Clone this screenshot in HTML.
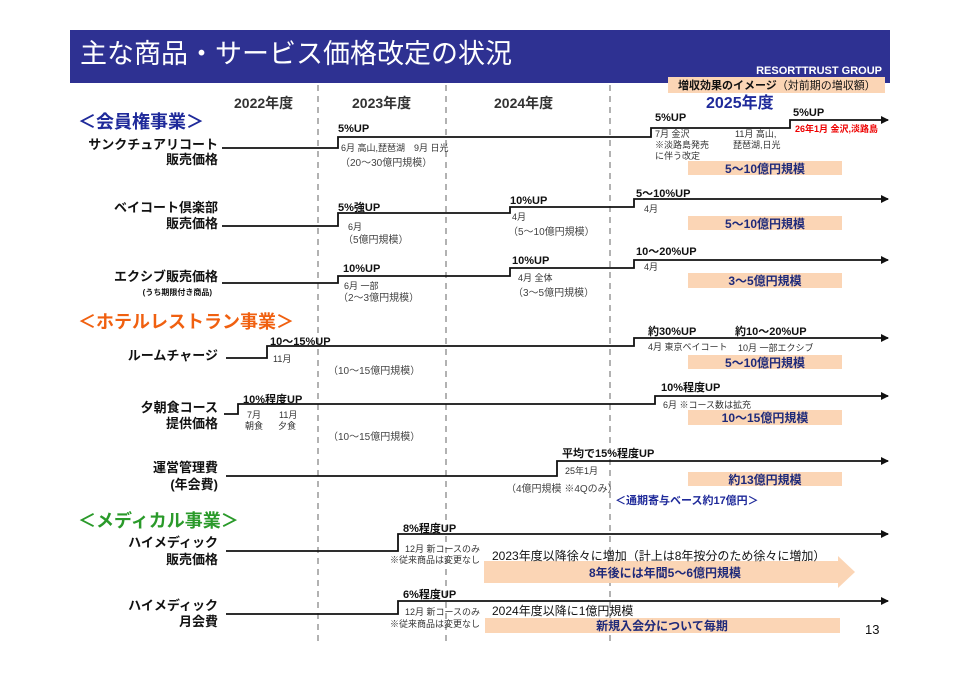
<!DOCTYPE html>
<html><head><meta charset="utf-8"><style>
html,body{margin:0;padding:0;background:#fff;}
svg{display:block;font-family:"Liberation Sans","Noto Sans CJK JP",sans-serif;}
.b{font-weight:bold;}
.lab{font-size:13px;font-weight:bold;fill:#111;}
.up{font-size:11px;font-weight:bold;fill:#111;}
.n{font-size:9px;fill:#333;}
.s{font-size:10px;fill:#444;}
.pk{font-size:12px;font-weight:bold;fill:#1f2a7a;}
</style></head><body>
<svg width="960" height="679" viewBox="0 0 960 679" xmlns="http://www.w3.org/2000/svg">
<defs><marker id="a" markerWidth="8" markerHeight="8" refX="7" refY="4" orient="auto" markerUnits="userSpaceOnUse"><path d="M0,0 L8,4 L0,8 z" fill="#111"/></marker></defs>
<rect x="70" y="30" width="820" height="53" fill="#2e3192"/>
<text x="80" y="63" font-size="27" fill="#fff">主な商品・サービス価格改定の状況</text>
<text x="882" y="74" font-size="11" class="b" fill="#fff" text-anchor="end">RESORTTRUST GROUP</text>
<rect x="668" y="77" width="217" height="16" fill="#fbd5b5"/>
<text x="678" y="89" font-size="11" fill="#111"><tspan class="b">増収効果のイメージ</tspan>（対前期の増収額）</text>
<g stroke="#999" stroke-width="1.5" stroke-dasharray="6,5"><line x1="318" y1="85" x2="318" y2="642"/><line x1="446" y1="85" x2="446" y2="642"/><line x1="610" y1="85" x2="610" y2="642"/></g>
<g font-size="14" fill="#333" font-weight="bold"><text x="234" y="108">2022年度</text><text x="352" y="108">2023年度</text><text x="494" y="108">2024年度</text></g>
<text x="706" y="108" font-size="16" font-weight="bold" fill="#1f2a9a">2025年度</text>
<text x="78" y="128" font-size="18" font-weight="bold" fill="#1f2a9a">＜会員権事業＞</text>
<text x="78" y="328" font-size="18" font-weight="bold" fill="#f06010">＜ホテルレストラン事業＞</text>
<text x="78" y="527" font-size="18" font-weight="bold" fill="#2a9a2a">＜メディカル事業＞</text>
<g fill="none" stroke="#111" stroke-width="1.8">
<polyline points="222,148 338,148 338,137 651,137 651,128 790,128 790,120 888,120" marker-end="url(#a)"/>
<polyline points="222,226 338,226 338,213 510,213 510,207 634,207 634,199 888,199" marker-end="url(#a)"/>
<polyline points="222,283 338,283 338,276 510,276 510,268 634,268 634,260 888,260" marker-end="url(#a)"/>
<polyline points="226,358 267,358 267,346 634,346 634,338 888,338" marker-end="url(#a)"/>
<polyline points="224,414 238,414 238,404 655,404 655,396 888,396" marker-end="url(#a)"/>
<polyline points="226,476 557,476 557,461 888,461" marker-end="url(#a)"/>
<polyline points="226,551 398,551 398,534 888,534" marker-end="url(#a)"/>
<polyline points="226,614 398,614 398,601 888,601" marker-end="url(#a)"/>
</g>
<g class="lab" text-anchor="end">
<text x="218" y="149">サンクチュアリコート</text><text x="218" y="164">販売価格</text>
<text x="218" y="212">ベイコート倶楽部</text><text x="218" y="228">販売価格</text>
<text x="218" y="281">エクシブ販売価格</text>
<text x="218" y="360">ルームチャージ</text>
<text x="218" y="412">夕朝食コース</text><text x="218" y="428">提供価格</text>
<text x="218" y="472">運営管理費</text><text x="218" y="489">(年会費)</text>
<text x="218" y="547">ハイメディック</text><text x="218" y="564">販売価格</text>
<text x="218" y="610">ハイメディック</text><text x="218" y="626">月会費</text>
</g>
<text x="212" y="295" font-size="8" class="b" fill="#111" text-anchor="end">(うち期限付き商品)</text>
<g class="up">
<text x="338" y="132">5%UP</text><text x="655" y="121">5%UP</text><text x="793" y="116">5%UP</text>
<text x="338" y="211">5%強UP</text><text x="510" y="204">10%UP</text><text x="636" y="197">5〜10%UP</text>
<text x="343" y="272">10%UP</text><text x="512" y="264">10%UP</text><text x="636" y="255">10〜20%UP</text>
<text x="270" y="345">10〜15%UP</text><text x="648" y="335">約30%UP</text><text x="735" y="335">約10〜20%UP</text>
<text x="243" y="403">10%程度UP</text><text x="661" y="391">10%程度UP</text>
<text x="562" y="457">平均で15%程度UP</text>
<text x="403" y="532">8%程度UP</text><text x="403" y="598">6%程度UP</text>
</g>
<g class="n">
<text x="341" y="151">6月 高山,琵琶湖　9月 日光</text>
<text x="655" y="137">7月 金沢</text><text x="655" y="148">※淡路島発売</text><text x="655" y="159">に伴う改定</text>
<text x="735" y="137">11月 高山,</text><text x="733" y="148">琵琶湖,日光</text>
<text x="348" y="230">6月</text><text x="512" y="220">4月</text><text x="644" y="212">4月</text>
<text x="344" y="289">6月 一部</text><text x="518" y="281">4月 全体</text><text x="644" y="270">4月</text>
<text x="273" y="362">11月</text><text x="648" y="350">4月 東京ベイコート</text><text x="738" y="351">10月 一部エクシブ</text>
<text x="247" y="418">7月</text><text x="279" y="418">11月</text><text x="245" y="429">朝食</text><text x="278" y="429">夕食</text>
<text x="663" y="408">6月 ※コース数は拡充</text>
<text x="565" y="474">25年1月</text>
<text x="405" y="552">12月 新コースのみ</text><text x="390" y="563">※従来商品は変更なし</text>
<text x="405" y="615">12月 新コースのみ</text><text x="390" y="627">※従来商品は変更なし</text>
</g>
<text x="795" y="132" font-size="9" class="b" fill="#e00">26年1月 金沢,淡路島</text>
<g class="s">
<text x="340" y="166">（20〜30億円規模）</text><text x="343" y="243">（5億円規模）</text><text x="508" y="235">（5〜10億円規模）</text>
<text x="338" y="301">（2〜3億円規模）</text><text x="513" y="296">（3〜5億円規模）</text>
<text x="328" y="374">（10〜15億円規模）</text><text x="328" y="440">（10〜15億円規模）</text>
<text x="506" y="492">（4億円規模 ※4Qのみ）</text>
</g>
<g fill="#fbd5b5">
<rect x="688" y="161" width="154" height="14"/><rect x="688" y="216" width="154" height="14"/><rect x="688" y="273" width="154" height="15"/>
<rect x="688" y="355" width="154" height="14"/><rect x="688" y="410" width="154" height="15"/><rect x="688" y="472" width="154" height="14"/>
<polygon points="484,561 838,561 838,556 855,572 838,588 838,583 484,583"/>
<rect x="485" y="618" width="355" height="15"/>
</g>
<g class="pk" text-anchor="middle">
<text x="765" y="173">5〜10億円規模</text><text x="765" y="228">5〜10億円規模</text><text x="765" y="285">3〜5億円規模</text>
<text x="765" y="367">5〜10億円規模</text><text x="765" y="422">10〜15億円規模</text><text x="765" y="484">約13億円規模</text>
<text x="665" y="577">8年後には年間5〜6億円規模</text><text x="662" y="630">新規入会分について毎期</text>
</g>
<text x="615" y="504" font-size="11" class="b" fill="#1f2a9a">＜通期寄与ベース約17億円＞</text>
<text x="492" y="560" font-size="12" fill="#111">2023年度以降徐々に増加（計上は8年按分のため徐々に増加）</text>
<text x="492" y="615" font-size="12" fill="#111">2024年度以降に1億円規模</text>
<text x="865" y="634" font-size="13" fill="#111">13</text>
</svg>
</body></html>
